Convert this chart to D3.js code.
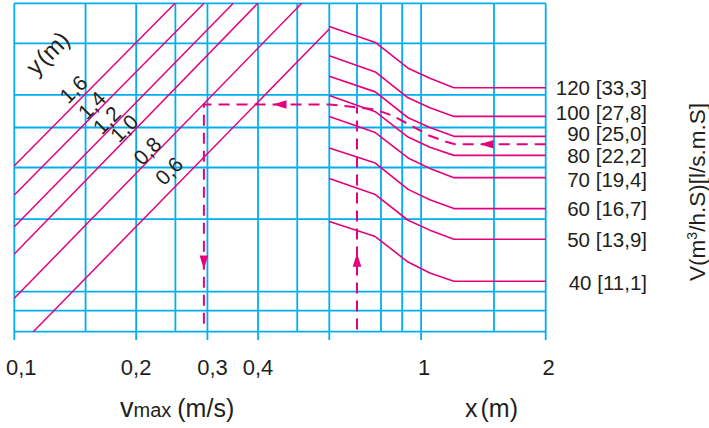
<!DOCTYPE html>
<html><head><meta charset="utf-8">
<script src="https://cdn.jsdelivr.net/npm/d3@7"></script>
<style>
body{margin:0;background:#fff}
svg{display:block}
text{font-family:"Liberation Sans",Arial,Helvetica,sans-serif;fill:#231f20}
</style>
</head><body>
<svg id="c" width="709" height="428"></svg>
<script>
// ---------- data ----------
const vGrid = [0.1, 0.15, 0.2, 0.25, 0.3, 0.4, 0.5, 0.6];       // vmax (m/s) grid
const vTicks = [0.1, 0.2, 0.3, 0.4];
const vTickLabels = ["0,1", "0,2", "0,3", "0,4"];
const xGrid = [0.6, 0.7, 0.8, 0.9, 1, 1.5, 2];                   // x (m) grid
const xTicks = [1, 2];
const xTickLabels = ["1", "2"];
const qGrid = [50, 40, 30, 25, 20, 15, 10, 9, 8];                // vertical (log) grid

const yNames = ["1,6", "1,4", "1,2", "1,0", "0,8", "0,6"];       // y (m) lines
const yLineStart = [[0.1, 20.2], [0.1, 17.15], [0.1, 14.37], [0.1, 12.34], [0.1, 9.64], [0.1114, 8.0]];
const yLineEnd   = [[0.2495, 50], [0.2942, 50], [0.3475, 50], [0.3994, 50], [0.5129, 50], [0.6, 43.3]];

const curveX = [0.6, 0.775, 0.93, 1.05, 1.2, 2];
const vNames = ["120 [33,3]", "100 [27,8]", "90 [25,0]", "80 [22,2]", "70 [19,4]", "60 [16,7]", "50 [13,9]", "40 [11,1]"];
const curve120 = [43.9, 40.2, 34.8, 32.9, 31.2, 31.2];
const curve100 = [37.3, 34.1, 29.5, 27.9, 26.6, 26.6];
const curve90  = [33.3, 30.5, 26.4, 25.0, 23.8, 23.8];
const curve80  = [29.9, 27.3, 23.7, 22.4, 21.4, 21.4];
const curve70  = [26.6, 24.3, 21.1, 19.9, 18.9, 18.9];
const curve60  = [22.3, 20.5, 17.7, 16.7, 15.9, 15.9];
const curve50  = [18.8, 17.2, 14.9, 14.1, 13.4, 13.4];
const curve40  = [14.8, 13.6, 11.8, 11.1, 10.6, 10.6];
const curves = [curve120, curve100, curve90, curve80, curve70, curve60, curve50, curve40];

// example (dashed) path
const exX = [2, 1.208, 1.155, 1.045, 0.946, 0.851, 0.775, 0.686, 0.6];
const exQ = [22.77, 22.77, 23.05, 23.91, 25.28, 26.74, 27.64, 28.03, 28.43];
const exV = 0.294;      // vmax read
const exQBottom = 8.1;
const exX2 = 0.7;       // x read

// ---------- layout ----------
const svg = d3.select("#c");
const L = 14.3, M = 329.3, R = 545.7, T = 3.3, B = 331.7;
const xv = d3.scaleLog().domain([0.1, 0.6]).range([L, M]);
const xx = d3.scaleLog().domain([0.6, 2]).range([M, R]);
const yq = d3.scaleLog().domain([50, 8]).range([T, B]);

const CY = "#00aeef", MG = "#e5007e";
const g = svg.append("g");

// grid
g.selectAll(".hq").data(qGrid).join("line")
  .attr("x1", L).attr("x2", R).attr("y1", d => yq(d)).attr("y2", d => yq(d))
  .attr("stroke", CY).attr("stroke-width", 1.8);
g.selectAll(".vv").data(vGrid).join("line")
  .attr("x1", d => xv(d)).attr("x2", d => xv(d))
  .attr("y1", T).attr("y2", d => (vTicks.includes(d) || d === 0.6) ? 340 : B)
  .attr("stroke", CY).attr("stroke-width", 1.8);
g.selectAll(".vx").data(xGrid.filter(d => d !== 0.6)).join("line")
  .attr("x1", d => xx(d)).attr("x2", d => xx(d))
  .attr("y1", T).attr("y2", d => d === exX2 ? yq(28.0) : (xTicks.includes(d) ? 340 : B))
  .attr("stroke", CY).attr("stroke-width", 1.8);

// y (m) diagonal lines
const lineP = yNames.map((n, i) => ({
  n, x1: xv(yLineStart[i][0]), y1: yq(yLineStart[i][1]),
  x2: xv(yLineEnd[i][0]), y2: yq(yLineEnd[i][1])
}));
g.selectAll(".dl").data(lineP).join("line")
  .attr("x1", d => d.x1).attr("y1", d => d.y1).attr("x2", d => d.x2).attr("y2", d => d.y2)
  .attr("stroke", MG).attr("stroke-width", 1.5);

// V curves
const lineGen = d3.line();
curves.forEach((c, i) => {
  g.append("path")
    .attr("d", lineGen(c.map((q, j) => [xx(curveX[j]), yq(q)])))
    .attr("fill", "none").attr("stroke", MG).attr("stroke-width", 1.6)
    .attr("stroke-linejoin", "round");
});

// dashed example
const dash = "11,7";
const exPts = exX.map((x, i) => [xx(x), yq(exQ[i])]);
exPts.push([xv(exV), yq(exQ[exQ.length - 1])]);
exPts.push([xv(exV), yq(exQBottom)]);
g.append("path").attr("d", lineGen(exPts))
  .attr("fill", "none").attr("stroke", MG).attr("stroke-width", 2)
  .attr("stroke-dasharray", dash);
g.append("line")
  .attr("x1", xx(exX2)).attr("x2", xx(exX2)).attr("y1", yq(exQBottom)).attr("y2", yq(28.0))
  .attr("stroke", MG).attr("stroke-width", 2).attr("stroke-dasharray", dash);

function arrow(px, py, ang) {
  const len = 13.5, hw = 4.3;
  g.append("path")
    .attr("d", `M0,0 L${len},${-hw} L${len},${hw} Z`)
    .attr("transform", `translate(${px},${py}) rotate(${ang})`)
    .attr("fill", MG);
}
arrow(xx(1.388), yq(22.77), 0);          // pointing left
arrow(xv(0.4356), yq(28.43), 0);         // pointing left
arrow(xv(exV), yq(11.35), -90);          // pointing down
arrow(xx(exX2), yq(12.4), 90);           // pointing up

// diagonal labels
const labelV = [0.1468, 0.1606, 0.1752, 0.1936, 0.2198, 0.2567];
const labelOff = [11.9, 8.3, 8.8, 9.0, 7.8, 15.6];
lineP.forEach((d, i) => {
  const px = xv(labelV[i]);
  const t = (px - d.x1) / (d.x2 - d.x1);
  const py = d.y1 + t * (d.y2 - d.y1);
  const dx = d.x2 - d.x1, dy = d.y2 - d.y1, ln = Math.hypot(dx, dy);
  const nx = dy / ln, ny = -dx / ln;
  const cx = px + nx * labelOff[i], cy = py + ny * labelOff[i];
  g.append("text").attr("transform", `translate(${cx},${cy}) rotate(-45)`)
    .attr("text-anchor", "middle").attr("dy", "0.36em")
    .attr("font-size", 21).text(d.n);
});
const yt = g.append("text").attr("transform", "translate(48.5,54) rotate(-45)")
  .attr("text-anchor", "middle").attr("dy", "0.3em").attr("font-size", 24);
yt.append("tspan").text("y");
yt.append("tspan").attr("dx", 2).text("(m)");

// right labels
const labAdj = [0, -4, -2.5, 0.5, 1.5, 0, 0, 1];
vNames.forEach((n, i) => {
  const c = curves[i];
  g.append("text").attr("x", 647).attr("y", yq(c[c.length - 1]) + labAdj[i])
    .attr("dy", "0.36em").attr("text-anchor", "end").attr("font-size", 20.5).text(n);
});

// bottom tick labels
const vLabDx = [7, 0, 5, 0];
vTicks.forEach((v, i) => {
  g.append("text").attr("x", xv(v) + vLabDx[i]).attr("y", 375)
    .attr("text-anchor", "middle").attr("font-size", 22).text(vTickLabels[i]);
});
xTicks.forEach((x, i) => {
  g.append("text").attr("x", xx(x) + 3).attr("y", 375)
    .attr("text-anchor", "middle").attr("font-size", 22).text(xTickLabels[i]);
});

// axis titles
const vt = g.append("text").attr("x", 120).attr("y", 417).attr("font-size", 25);
vt.append("tspan").attr("font-size", 27).text("v");
vt.append("tspan").attr("font-size", 20).text("max");
vt.append("tspan").attr("dx", 6).text("(m/s)");

const xt = g.append("text").attr("x", 465).attr("y", 417).attr("font-size", 25);
xt.append("tspan").text("x");
xt.append("tspan").attr("dx", 3).text("(m)");

const Vt = g.append("text").attr("transform", "translate(705,192) rotate(-90)")
  .attr("text-anchor", "middle").attr("font-size", 22.5);
Vt.append("tspan").text("V(m");
Vt.append("tspan").attr("font-size", 14).attr("dy", -8).text("3");
Vt.append("tspan").attr("dy", 8).text("/h.S)[l/s.m.S]");
</script>
</body></html>
